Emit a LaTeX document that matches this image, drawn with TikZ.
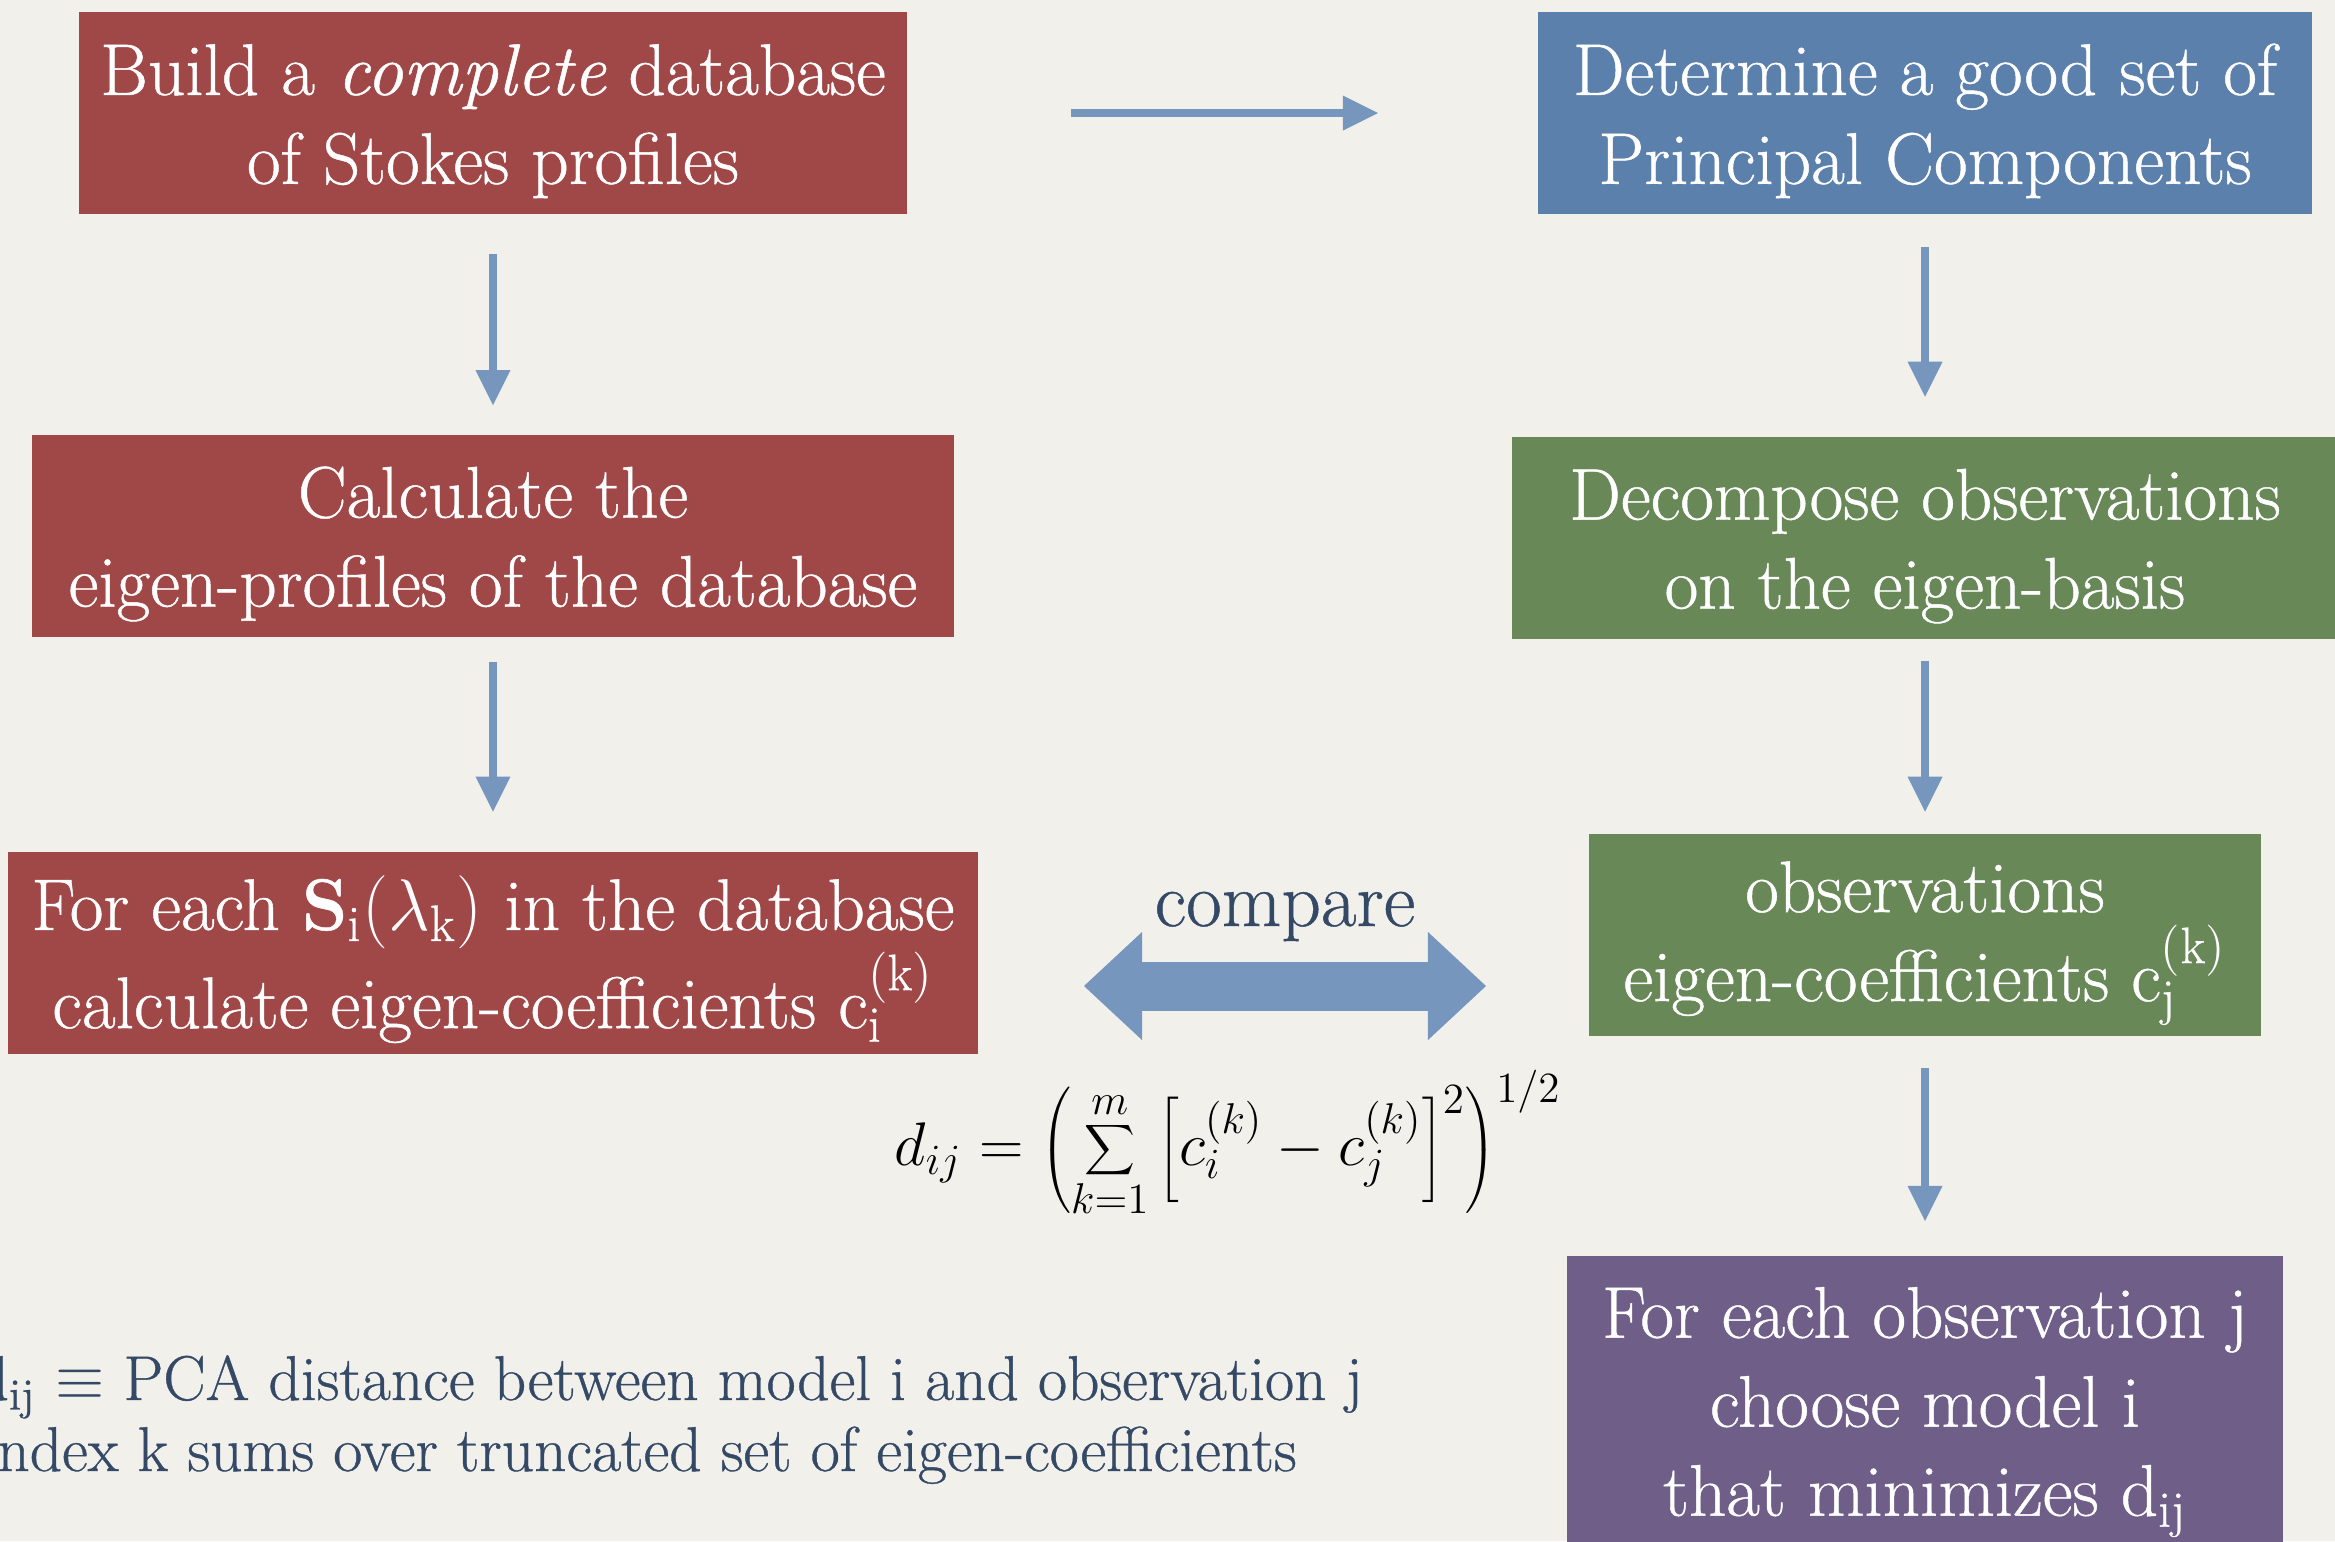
\RequirePackage{fix-cm}
\documentclass[tikz,border=0pt]{standalone}
\usepackage{fontspec}
\setmainfont{Latin Modern Roman}[FakeBold=0.6]
\usetikzlibrary{arrows.meta}

\definecolor{paper}{RGB}{242,240,235}
\definecolor{boxred}{RGB}{160,72,72}
\definecolor{boxblue}{RGB}{92,128,172}
\definecolor{boxgreen}{RGB}{104,136,88}
\definecolor{boxpurple}{RGB}{110,94,136}
\definecolor{arrowblue}{RGB}{118,150,190}
\definecolor{inkblue}{RGB}{52,73,102}

\newcommand{\tstrut}{\rule{0pt}{0.67cm}}

\tikzset{
  box/.style={fill=#1, text=white, align=center, inner sep=0pt,
    font=\fontsize{20.8}{25.3}\selectfont},
  flow/.style={draw=arrowblue, line width=0.085cm,
    -{Triangle[length=0.35cm,width=0.35cm,line width=0pt]}},
  bigflow/.style={draw=arrowblue, line width=0.49cm,
    {Triangle[length=0.58cm,width=1.08cm,line width=0pt]}-{Triangle[length=0.58cm,width=1.08cm,line width=0pt]}}
}

\begin{document}
\begin{tikzpicture}[x=0.01cm,y=-0.01cm]
\useasboundingbox (0,0) rectangle (2335,1541);
\clip (0,0) rectangle (2335,1541);
\fill[paper] (0,0) rectangle (2335,1541);

% left column
\node[box=boxred, minimum width=8.27cm, minimum height=2.02cm] (build) at (493,113)
  {\tstrut Build a \textit{complete} database\\of Stokes profiles};
\node[box=boxred, minimum width=9.21cm, minimum height=2.02cm] (eigen) at (493,536)
  {\tstrut Calculate the\\eigen-profiles of the database};
\node[box=boxred, minimum width=9.70cm, minimum height=2.01cm] (each) at (493,953)
  {\tstrut For each $\mathbf{S}_{\mathrm{i}}(\lambda_{\mathrm{k}})$ in the database\\calculate eigen-coefficients c$_{\mathrm{i}}^{\mathrm{(k)}}$};

% right column
\node[box=boxblue, minimum width=7.74cm, minimum height=2.02cm] (pcs) at (1925,113)
  {\tstrut Determine a good set of\\Principal Components};
\node[box=boxgreen, minimum width=8.26cm, minimum height=2.01cm] (decomp) at (1925,538)
  {\tstrut Decompose observations\\on the eigen-basis};
\node[box=boxgreen, minimum width=6.72cm, minimum height=2.01cm] (obscoef) at (1925,935)
  {\tstrut observations\\eigen-coefficients c$_{\mathrm{j}}^{\mathrm{(k)}}$};
\node[box=boxpurple, minimum width=7.15cm, inner ysep=0.15cm, anchor=north] (choose) at (1925,1255)
  {\tstrut For each observation j\\choose model i\\that minimizes d$_{\mathrm{ij}}$};

% arrows
\draw[flow, shorten <=1.63cm, shorten >=1.59cm] (build.east) -- (pcs.west);
\draw[flow, shorten <=0.39cm, shorten >=0.29cm] (build.south) -- (eigen.north);
\draw[flow, shorten <=0.24cm, shorten >=0.40cm] (eigen.south) -- (each.north);
\draw[flow, shorten <=0.32cm, shorten >=0.40cm] (pcs.south) -- (decomp.north);
\draw[flow, shorten <=0.22cm, shorten >=0.22cm] (decomp.south) -- (obscoef.north);
\draw[flow, shorten <=0.32cm, shorten >=0.34cm] (obscoef.south) -- (choose.north);

% compare
\coordinate (cmpL) at (1084,986);
\coordinate (cmpR) at (1486,986);
\draw[bigflow] (cmpL) -- (cmpR);
\node[anchor=base, text=inkblue, inner sep=0pt, font=\fontsize{22}{26}\selectfont] (cmp) at (1285,926) {compare};

\node[inner sep=0pt, font=\fontsize{17.5}{21}\selectfont] (dist) at (1228,1144)
  {$\displaystyle d_{ij} = \left(\sum_{k=1}^{m}\left[c_i^{(k)} - c_j^{(k)}\right]^2\right)^{1/2}$};

\node[anchor=base west, align=left, inner sep=0pt, text=inkblue, font=\fontsize{18}{20.2}\selectfont] (note) at (-24,1471)
  {d$_{\mathrm{ij}}$ $\equiv$ PCA distance between model i and observation j\\Index k sums over truncated set of eigen-coefficients};

\end{tikzpicture}
\end{document}
